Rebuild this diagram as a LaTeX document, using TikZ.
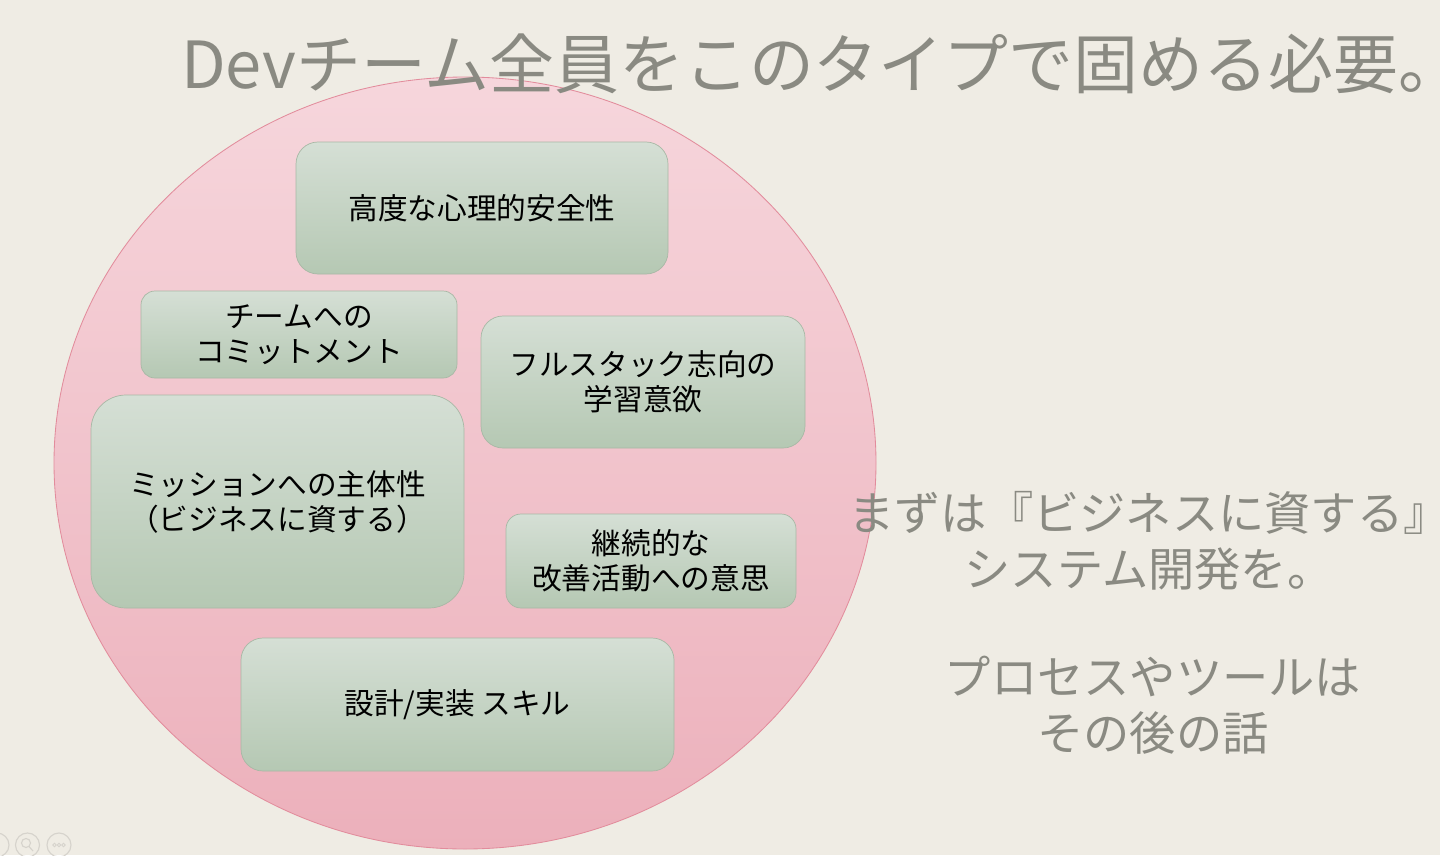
\documentclass[tikz,border=0pt]{standalone}
\usepackage{fontspec}
\setmainfont{Noto Sans CJK JP}
\usepackage{xcolor}
\usepackage{tikz}
\usetikzlibrary{positioning,shadings}
\definecolor{slidebg}{RGB}{239,236,228}
\definecolor{titlegray}{RGB}{138,138,130}
\definecolor{ringtop}{RGB}{246,214,220}
\definecolor{ringbot}{RGB}{236,176,187}
\definecolor{ringline}{RGB}{226,140,156}
\definecolor{boxtop}{RGB}{213,223,213}
\definecolor{boxbot}{RGB}{181,200,179}
\definecolor{boxline}{RGB}{168,184,165}
\definecolor{uigray}{RGB}{214,211,204}
\tikzset{
  trait/.style={draw=boxline,line width=0.5pt,top color=boxtop,bottom color=boxbot,
    align=center,font=\fontsize{21.1}{24.9}\selectfont,text=black,inner sep=0pt},
  headline/.style={font=\fontsize{46.2}{54}\selectfont,text=titlegray,inner sep=0pt},
  remark/.style={align=center,font=\fontsize{32.9}{40}\selectfont,text=titlegray,inner sep=0pt},
  uiicon/.style={draw=uigray,line width=0.8pt},
}

\begin{document}
\begin{tikzpicture}[x=0.025cm,y=-0.025cm]
  \fill[slidebg] (0,0) rectangle (1440,855);
  \useasboundingbox (0,0) rectangle (1440,855);
  % big circle
  \draw[ringline,line width=0.6pt,top color=ringtop,bottom color=ringbot]
    (465,463) ellipse [x radius=411,y radius=386];
  \node[headline,anchor=base west] (title) at (181,88) {Devチーム全員をこのタイプで固める必要。};
  % traits
  \node[trait,minimum width=372*0.025cm,minimum height=132*0.025cm,rounded corners=22*0.025cm]
    (safety) at (482,208) {高度な心理的安全性};
  \node[trait,minimum width=316*0.025cm,minimum height=87*0.025cm,rounded corners=14*0.025cm]
    (commit) at (299,334.5) {チームへの\\コミットメント};
  \node[trait,minimum width=324*0.025cm,minimum height=132*0.025cm,rounded corners=22*0.025cm]
    (fullstack) at (643,382) {フルスタック志向の\\学習意欲};
  \node[trait,minimum width=373*0.025cm,minimum height=213*0.025cm,rounded corners=35*0.025cm]
    (mission) at (277.5,501.5) {ミッションへの主体性\\（ビジネスに資する）};
  \node[trait,minimum width=290*0.025cm,minimum height=94*0.025cm,rounded corners=15*0.025cm]
    (kaizen) at (651,561) {継続的な\\改善活動への意思};
  \node[trait,minimum width=433*0.025cm,minimum height=133*0.025cm,rounded corners=22*0.025cm]
    (skill) at (457.5,704.5) {設計/実装 スキル};
  % right side message
  \node[remark] (business) at (1149,541) {まずは『ビジネスに資する』\\システム開発を。};
  \node[remark] (process) at (1153,705) {プロセスやツールは\\その後の話};
  % viewer controls
  \draw[uiicon] (-3,845) circle (12);
  \draw[uiicon] (27.5,845) circle (12);
  \draw[uiicon] (26,843) circle (4.5) (29,846.5) -- (33,851);
  \draw[uiicon] (59,845) circle (12);
  \foreach \dx in {-4.5,0,4.5} {\draw[uiicon,line width=0.6pt] (59+\dx,845) circle (1.8);}
\end{tikzpicture}
\end{document}
